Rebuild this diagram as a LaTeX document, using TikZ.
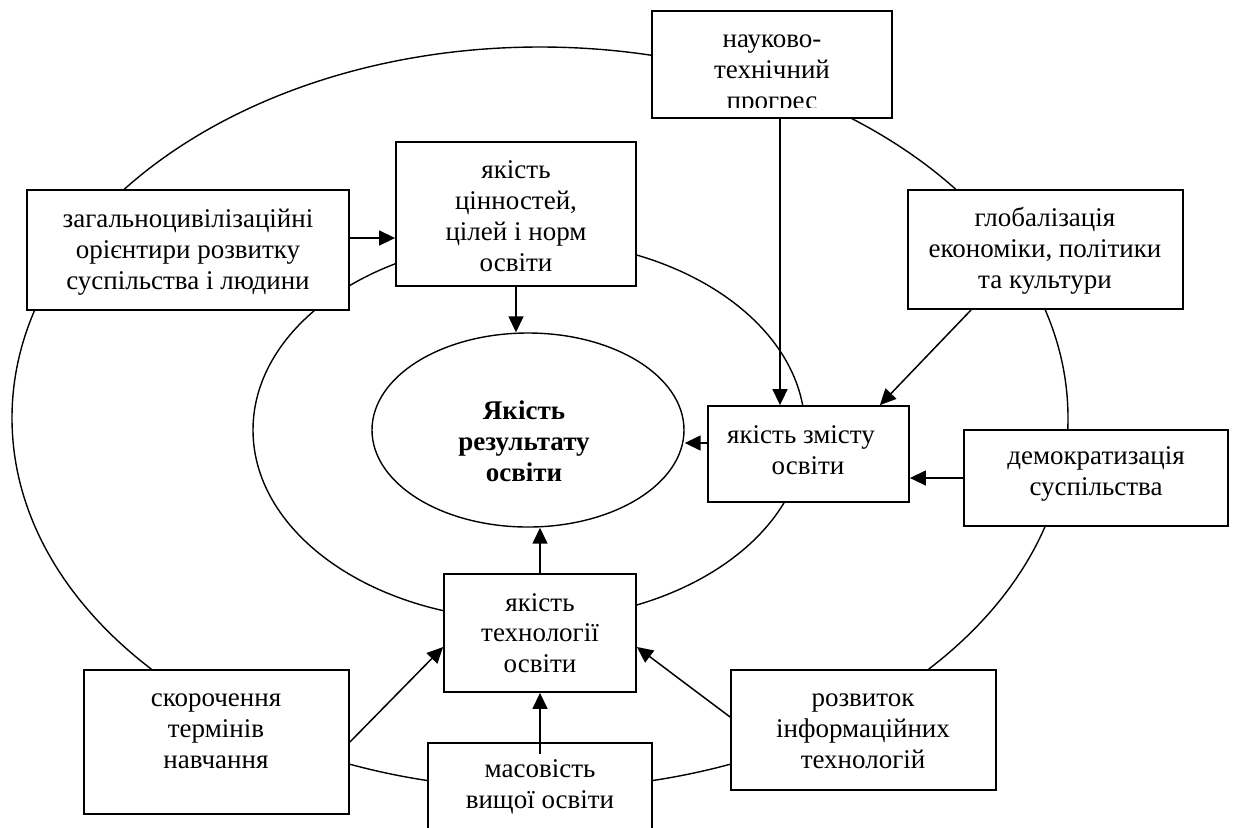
\documentclass[tikz,border=0pt]{standalone}
\usepackage{fontspec}
\setmainfont{Liberation Serif}
\usetikzlibrary{arrows.meta,shapes.geometric}
\begin{document}
\begin{tikzpicture}[x=0.5pt,y=-0.5pt,
  box/.style={draw,line width=0.9pt,fill=white,inner sep=0pt,rectangle},
  lbl/.style={align=center,font=\fontsize{13.5}{15.4}\selectfont,inner sep=0pt},
  ring/.style={line width=0.7pt},
  arr/.style={line width=0.75pt,-{Triangle[length=8pt,width=7.5pt]}}]
\useasboundingbox (0,0) rectangle (1236,827);
% rings
\draw[ring] (540,418) ellipse [x radius=264pt, y radius=185.5pt];
\draw[ring] (529,430) ellipse [x radius=138pt, y radius=95pt];
% centre
\node[draw,ellipse,minimum width=156pt,minimum height=97pt,inner sep=0pt,line width=0.7pt] (res) at (528,430) {};
\node[lbl,font=\fontsize{13.5}{15.5}\selectfont\bfseries] (rest) at (524,441) {Якість\\результату\\освіти};
% boxes
\node[box,minimum width=120pt,minimum height=53.5pt] (nauk) at (772,64.5) {};
\node[box,minimum width=161pt,minimum height=60pt] (zag) at (188,250) {};
\node[box,minimum width=120pt,minimum height=72pt] (cinn) at (516,214) {};
\node[box,minimum width=137.5pt,minimum height=59.5pt] (glob) at (1045.5,249.5) {};
\node[box,minimum width=100.5pt,minimum height=48pt] (zmist) at (808.5,454) {};
\node[box,minimum width=132pt,minimum height=48pt] (demo) at (1096,478) {};
\node[box,minimum width=96pt,minimum height=59pt] (tech) at (540,633) {};
\node[box,minimum width=132.5pt,minimum height=72pt] (skor) at (216.5,742) {};
\node[box,minimum width=112pt,minimum height=53.5pt] (mas) at (540,796.5) {};
\node[box,minimum width=132.5pt,minimum height=60pt] (rozv) at (863.5,730) {};
% texts
\begin{scope}
\clip (652,11) rectangle (892,107);
\node[lbl] (naukt) at (772,75) {науково-\\технічний\\прогрес};
\end{scope}
\node[lbl] (zagt) at (188,252) {загальноцивілізаційні\\орієнтири розвитку\\суспільства і людини};
\node[lbl] (cinnt) at (516,216) {якість\\цінностей,\\цілей і норм\\освіти};
\node[lbl] (globt) at (1045,251) {глобалізація\\економіки, політики\\та культури};
\node[lbl] (zmistt) at (808,450) {якість змісту\hspace*{7pt}\\освіти};
\node[lbl] (demot) at (1096,474) {демократизація\\суспільства};
\node[lbl] (techt) at (540,633) {якість\\технології\\освіти};
\node[lbl] (skort) at (216,731) {скорочення\\термінів\\навчання};
\node[lbl] (mast) at (540,787) {масовість\\вищої освіти};
\node[lbl] (rozvt) at (863,731) {розвиток\\інформаційних\\технологій};
% arrows
\draw[arr] ([yshift=6pt]zag.east) -- ([yshift=6pt]zag.east -| cinn.west);
\draw[arr] (cinn.south) -- (cinn.south |- res.north);
\draw[arr] ([xshift=4pt]nauk.south) -- ([xshift=4pt]nauk.south |- zmist.north);
\draw[arr] ([xshift=32pt]glob.south west) -- ([xshift=-15pt]zmist.north east);
\draw[arr] ([yshift=5.5pt]zmist.west) -- ([yshift=-6.5pt]res.east);
\draw[arr] (demo.west) -- (demo.west -| zmist.east);
\draw[arr] (tech.north) -- (tech.north |- res.south);
\draw[arr] ([yshift=-6pt]mas.north) -- (tech.south);
\draw[arr] (skor.east) -- ([yshift=-7pt]tech.west);
\draw[arr] ([yshift=6.5pt]rozv.west) -- ([yshift=-7pt]tech.east);
\end{tikzpicture}
\end{document}
